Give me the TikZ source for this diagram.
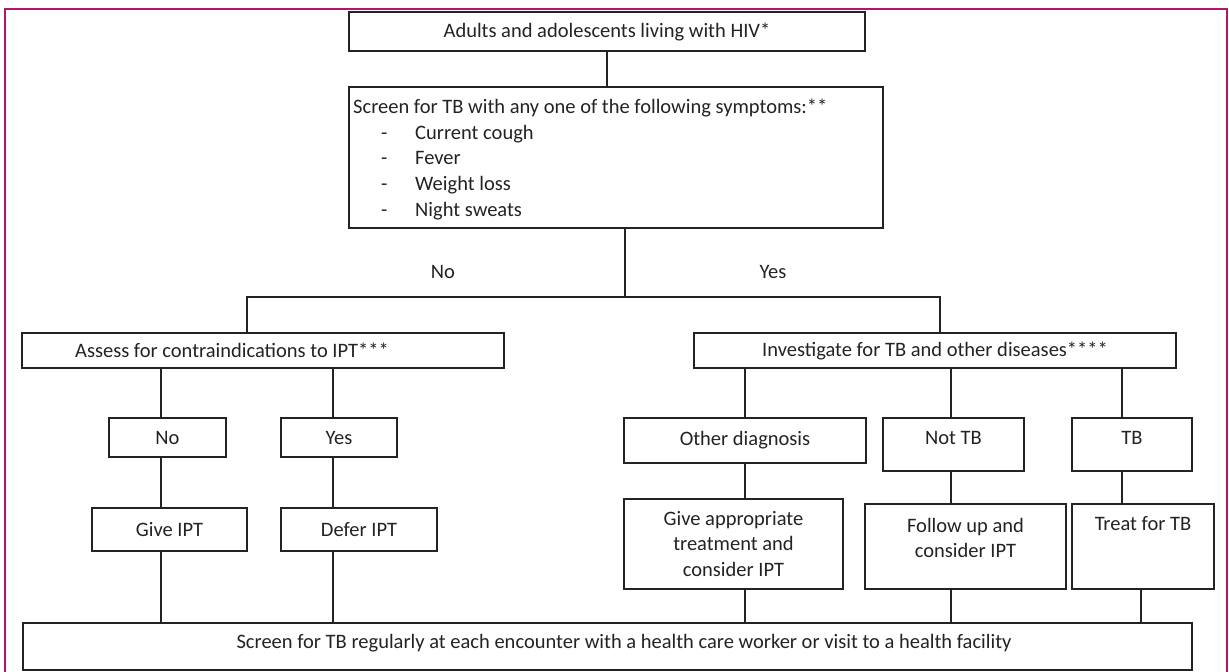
\documentclass[tikz,border=0pt]{standalone}
\usepackage{fontspec}
\setmainfont{Carlito}
\definecolor{framec}{RGB}{176,22,112}
\definecolor{ink}{RGB}{35,35,35}
\begin{document}
\begin{tikzpicture}[x=1pt,y=-1pt,
  font=\fontsize{20.5}{25.5}\selectfont,
  box/.style={draw=ink, line width=1.5pt, inner sep=0pt, text=ink, align=center},
  conn/.style={draw=ink, line width=1.5pt},
  lbl/.style={text=ink, inner sep=0pt}]
\useasboundingbox (0,0) rectangle (1229,672);
\draw[framec, line width=2.5pt] (5,690) -- (5,9) -- (1227,9) -- (1227,690);

% boxes
\node[box, minimum width=516, minimum height=39] (top) at (607,31.5) {Adults and adolescents living with HIV*};
\node[box, minimum width=534, minimum height=141] (screen) at (616,157.5) {};
\node[lbl, anchor=base west] (s0) at (353,113) {Screen for TB with any one of the following symptoms:**};
\node[lbl, anchor=base west] (d1) at (381,139) {-};
\node[lbl, anchor=base west] (t1) at (415,139) {Current cough};
\node[lbl, anchor=base west] (d2) at (381,164.5) {-};
\node[lbl, anchor=base west] (t2) at (415,164.5) {Fever};
\node[lbl, anchor=base west] (d3) at (381,190) {-};
\node[lbl, anchor=base west] (t3) at (415,190) {Weight loss};
\node[lbl, anchor=base west] (d4) at (381,216) {-};
\node[lbl, anchor=base west] (t4) at (415,216) {Night sweats};

\node[lbl] (nolbl) at (443,272) {No};
\node[lbl] (yeslbl) at (773,272) {Yes};

\node[box, minimum width=482, minimum height=35] (assess) at (263,350.5) {};
\node[lbl] (assesst) at (232,350.5) {Assess for contraindications to IPT***};
\node[box, minimum width=482, minimum height=35] (invest) at (935,350.5) {Investigate for TB and other diseases****};

\node[box, minimum width=117, minimum height=39] (no) at (167.5,437.5) {No};
\node[box, minimum width=116, minimum height=39] (yes) at (339,437.5) {Yes};
\node[box, minimum width=155, minimum height=43] (give) at (169.5,529.5) {Give IPT};
\node[box, minimum width=156, minimum height=43] (defer) at (359,529.5) {Defer IPT};

\node[box, minimum width=242, minimum height=45] (other) at (745,440.5) {Other diagnosis};
\node[box, minimum width=141, minimum height=53] (nottb) at (953.5,444.5) {};
\node[lbl] (nottbt) at (953.5,438) {Not TB};
\node[box, minimum width=120, minimum height=53] (tb) at (1132,444.5) {};
\node[lbl] (tbt) at (1132,438) {TB};

\node[box, minimum width=219, minimum height=90] (approp) at (733.5,544) {Give appropriate\\treatment and\\consider IPT};
\node[box, minimum width=201, minimum height=85] (follow) at (965.5,546.5) {};
\node[lbl, align=center] (followt) at (965.5,538) {Follow up and\\consider IPT};
\node[box, minimum width=142, minimum height=85] (treat) at (1143,546.5) {};
\node[lbl] (treatt) at (1143,524) {Treat for TB};

\node[box, minimum width=1169, minimum height=47] (bottom) at (607.5,646.5) {};
\node[lbl] (bottomt) at (624,643) {Screen for TB regularly at each encounter with a health care worker or visit to a health facility};

% connector coordinates
\coordinate (bl) at (247,297);
\coordinate (br) at (940,297);
\coordinate (bm) at (625,297);
\coordinate (c1) at (161,0);
\coordinate (c2) at (333,0);
\coordinate (c3) at (745,0);
\coordinate (c4) at (951,0);
\coordinate (c5) at (1122,0);
\coordinate (c6) at (1141,0);

\draw[conn] (top.south) -- (top.south |- screen.north);
\draw[conn] (screen.south -| bm) -- (bm);
\draw[conn] (assess.north -| bl) -- (bl) -- (br) -- (invest.north -| br);

\draw[conn] (assess.south -| c1) -- (no.north -| c1);
\draw[conn] (no.south -| c1) -- (give.north -| c1);
\draw[conn] (give.south -| c1) -- (bottom.north -| c1);
\draw[conn] (assess.south -| c2) -- (yes.north -| c2);
\draw[conn] (yes.south -| c2) -- (defer.north -| c2);
\draw[conn] (defer.south -| c2) -- (bottom.north -| c2);

\draw[conn] (invest.south -| c3) -- (other.north -| c3);
\draw[conn] (other.south -| c3) -- (approp.north -| c3);
\draw[conn] (approp.south -| c3) -- (bottom.north -| c3);
\draw[conn] (invest.south -| c4) -- (nottb.north -| c4);
\draw[conn] (nottb.south -| c4) -- (follow.north -| c4);
\draw[conn] (follow.south -| c4) -- (bottom.north -| c4);
\draw[conn] (invest.south -| c5) -- (tb.north -| c5);
\draw[conn] (tb.south -| c5) -- (treat.north -| c5);
\draw[conn] (treat.south -| c6) -- (bottom.north -| c6);
\end{tikzpicture}
\end{document}
